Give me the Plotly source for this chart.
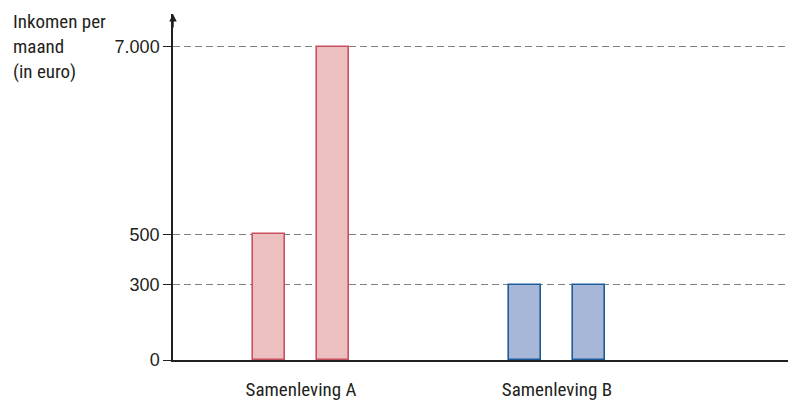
import numpy as np
import plotly.graph_objects as go

# Data
groups = ["Samenleving A", "Samenleving B"]
society_a = [500, 7000]
society_b = [300, 300]
tick_values = [0, 300, 500, 7000]
tick_labels = ["0", "300", "500", "7.000"]
y_title_lines = ["Inkomen per", "maand", "(in euro)"]

# Axis with a break: linear 0-500, then a jump to 7.000
tick_pos = [0, 3, 5, 12.48]
def to_disp(v):
    return list(np.interp(v, tick_values, tick_pos))

group_centers = [2, 6]
offsets = [-0.5, 0.5]
bar_w = 0.5

W, H = 788, 401
ML, MR, MT, MB = 173, 0, 14, 37
pw, ph = W - ML - MR, H - MT - MB

fig = go.Figure()
fig.add_trace(go.Bar(
    x=[group_centers[0] + o for o in offsets], y=to_disp(society_a), width=bar_w,
    marker=dict(color="#ecbfc0", line=dict(color="#c9505f", width=1.6)),
    showlegend=False, hoverinfo="skip"))
fig.add_trace(go.Bar(
    x=[group_centers[1] + o for o in offsets], y=to_disp(society_b), width=bar_w,
    marker=dict(color="#a6b7d7", line=dict(color="#1f5c9c", width=1.6)),
    showlegend=False, hoverinfo="skip"))

ytop = 13.78
narrow = "Liberation Sans Narrow, Roboto Condensed, Arial Narrow, sans-serif"
fig.update_layout(
    width=W, height=H,
    margin=dict(l=ML, r=MR, t=MT, b=MB),
    plot_bgcolor="white", paper_bgcolor="white",
    font=dict(family=narrow, color="#231f20"),
    xaxis=dict(range=[0, pw / 64], tickvals=group_centers, ticktext=groups, showgrid=False,
               zeroline=False, showline=True, linecolor="#231f20", linewidth=1.5,
               ticks="", tickfont=dict(size=19, family=narrow), ticklabelstandoff=11),
    yaxis=dict(range=[0, ytop], tickvals=tick_pos, ticktext=tick_labels,
               showgrid=True, gridcolor="#808080", griddash="7px,4px", gridwidth=1.4,
               zeroline=False, showline=True, linecolor="#231f20", linewidth=1.5,
               ticks="outside", ticklen=8, tickcolor="#231f20", tickwidth=1.3,
               tickfont=dict(size=18, family="Liberation Sans, Arial")),
    bargap=0,
)
# arrow on top of y-axis
fig.add_annotation(x=0, y=ytop, ax=0, ay=ytop - 0.6, xref="x", yref="y", axref="x", ayref="y",
                   text="", showarrow=True, arrowhead=2, arrowsize=1, arrowwidth=1.5,
                   arrowcolor="#231f20")
for i, line in enumerate(y_title_lines):
    px, py = 11, 22 + 25 * i
    fig.add_annotation(x=(px - ML) / pw, y=1 + (MT - py) / ph, xref="paper", yref="paper",
                       text=line, showarrow=False, xanchor="left", yanchor="middle",
                       font=dict(size=19, family=narrow))
fig.write_html("out.html", post_script="document.body.style.margin='0';",
               config={"displayModeBar": False})
